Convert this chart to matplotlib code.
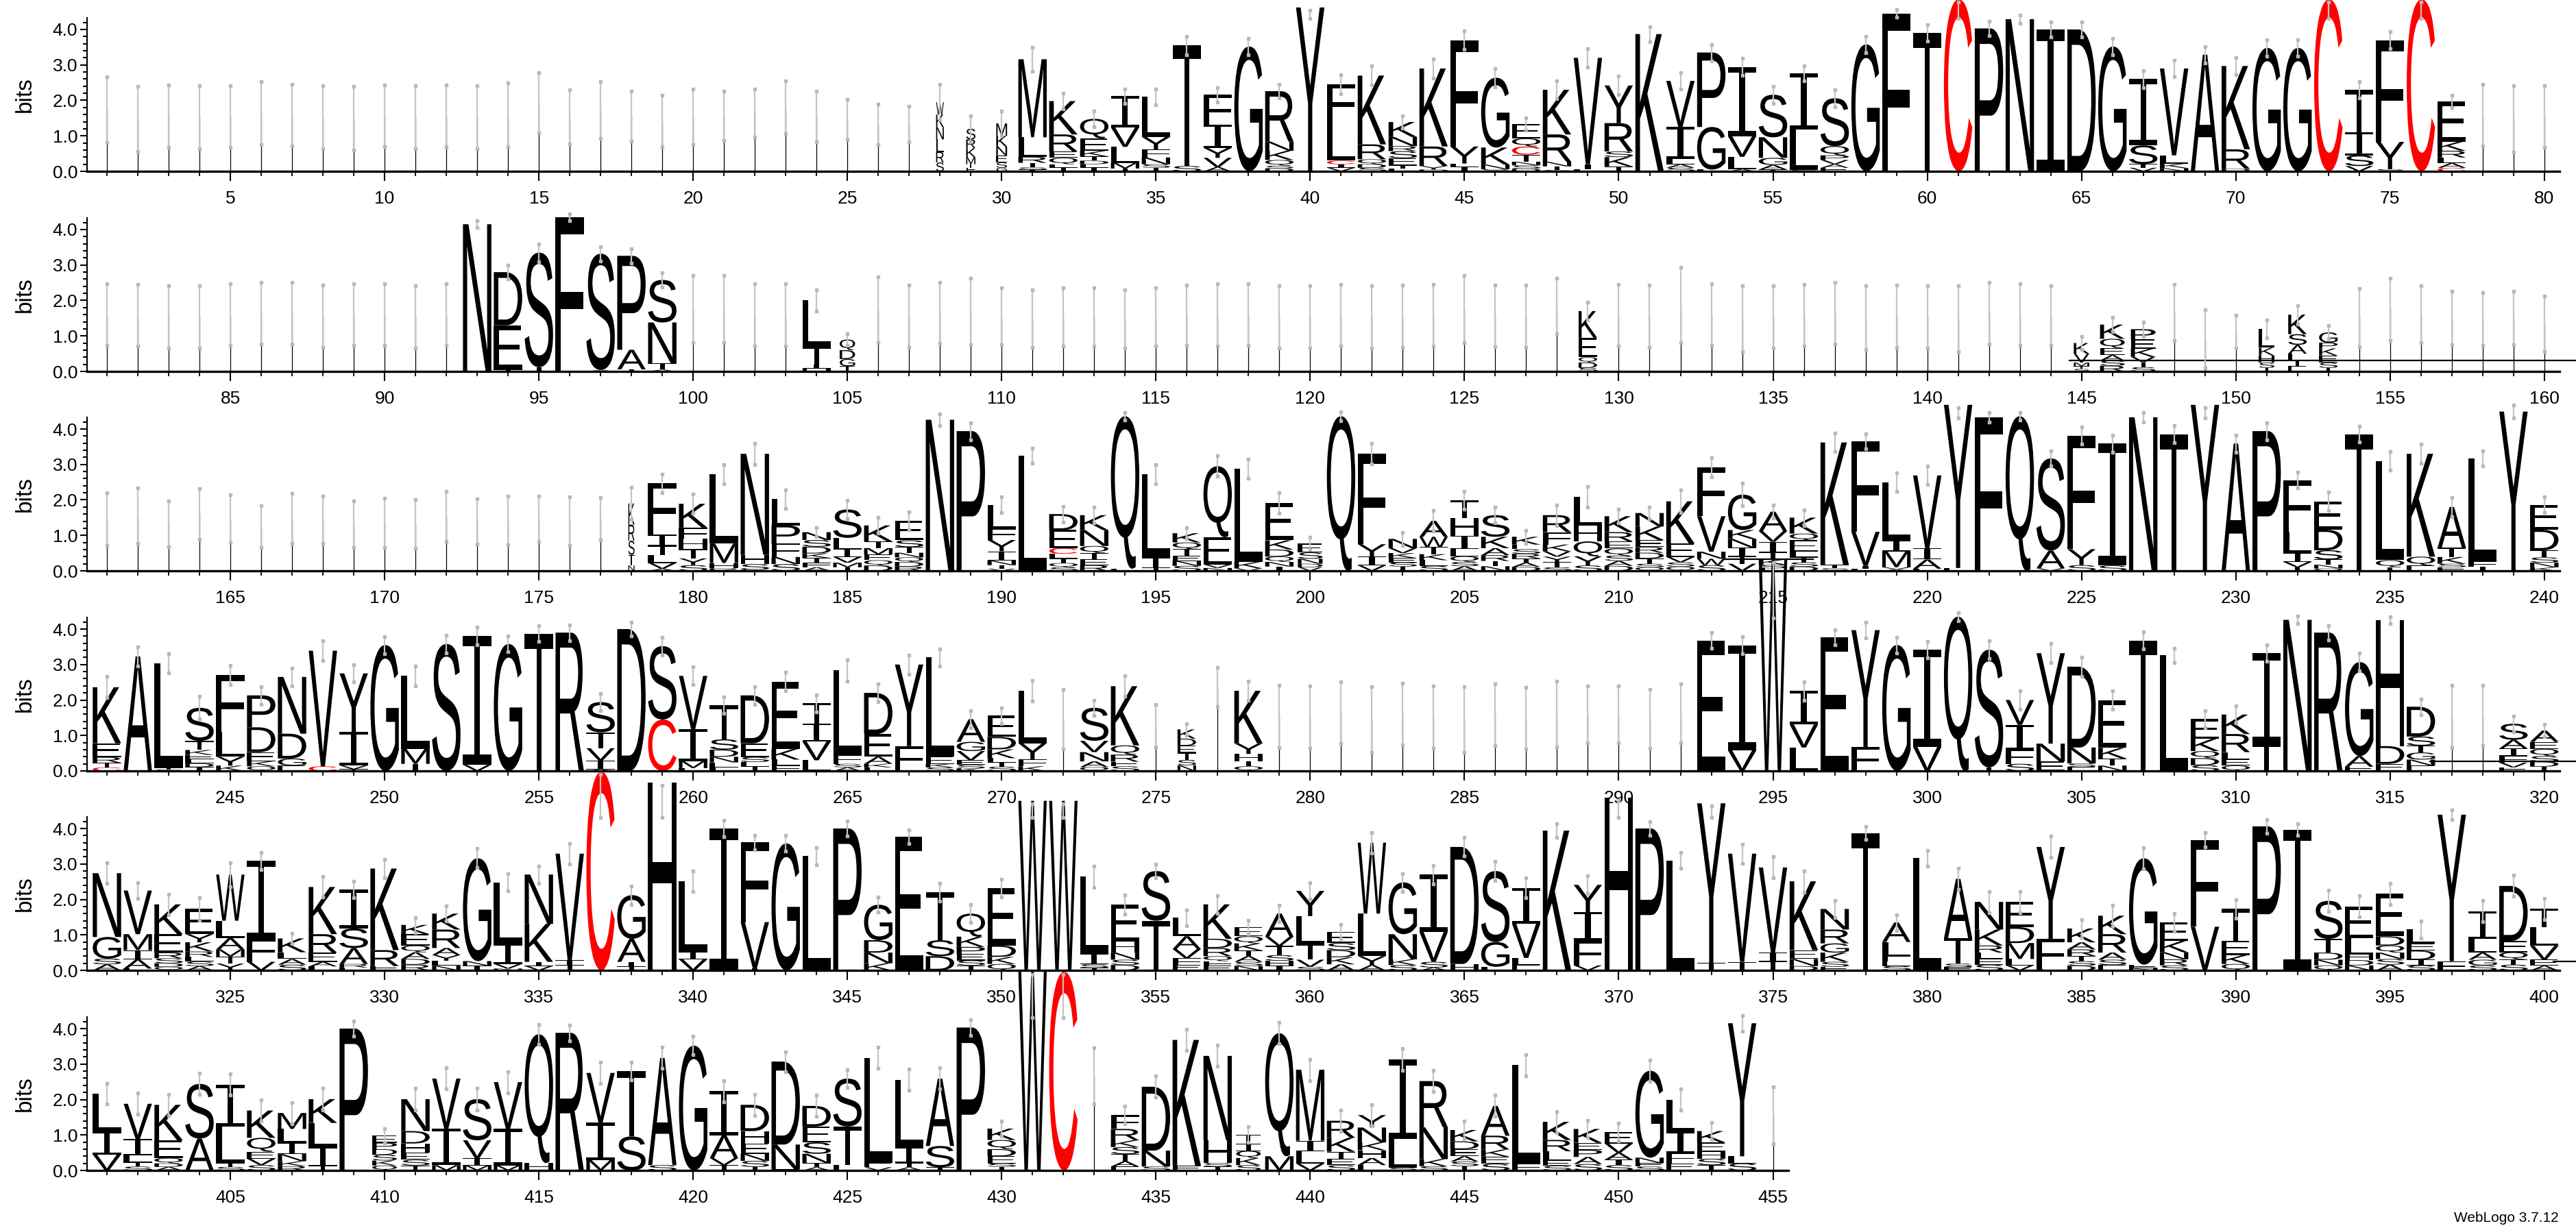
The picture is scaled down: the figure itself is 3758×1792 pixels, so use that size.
import numpy as np
import matplotlib
matplotlib.use('Agg')
import matplotlib.pyplot as plt
from matplotlib.textpath import TextPath
from matplotlib.patches import PathPatch
from matplotlib.font_manager import FontProperties
from matplotlib.transforms import Affine2D
from matplotlib.path import Path

plt.rcParams['font.family'] = ['Liberation Sans', 'DejaVu Sans']

# Stack per position, letters listed top -> bottom with height in bits.
# "_h" = almost empty column (thin stack of height h), "@w" = stack width,
# "|e" = half length of the error bar
row1 = [
    "_1.74|.93", "_1.48|.92", "_1.55|.88", "_1.52|.89", "_1.55|.87",
    "_1.64|.89", "_1.58|.87", "_1.52|.89", "_1.5|.9", "_1.57|.87",
    "_1.52|.89", "_1.57|.87", "_1.52|.89", "_1.6|.9", "_1.93|.85",
    "_1.53|.76", "_1.73|.8", "_1.56|.71", "_1.42|.73", "_1.53|.78",
    "_1.57|.7", "_1.64|.68", "_1.81|.75", "_1.55|.72", "_1.45|.57",
    "_1.32|.57", "_1.33|.5", "@.25 W.35 K.35 N.35 L.35 R.3 S.25|.5",
    "@.3 S.3 R.25 K.25 M.2 T.1 E.1|.37", "@.35 M.35 K.3 N.25 E.2 S.15 G.1|.35",
    "M2.2 L.55 R.17 T.13 S.06 I.05|.34", "K.94 R.48 E.18 Q.18 L.1 T.1|.23",
    "Q.55 E.35 K.16 T.12 D.1 L.1 I.1|.22", "I.88 V.55 L.45 M.16 T.08|.2",
    "L1.13 Y.35 F.23 N.19 S.1 T.1|.22",
    "T3.4 S.15|.26", "F.85 I.65 Y.28 V.26 A.12|.2", "G3.52|.23",
    "R1.42 N.26 K.26 Q.16 S.08 D.08|.2", "Y4.62",
    "F1.05 L1.1 C.1 I.1 V.1|.27", "K1.94 R.42 Q.14 D.1 S.1|.27",
    "K.42 N.26 R.14 S.2 E.2 T.1 L.07|.18", "K2.2 R.55 Y.1 D.05|.27",
    "F3.0 Y.48 L.1 I.12|.27",
    "G1.97 K.48 N.13 S.06|.26", "E.4 Q.23 C.23 T.2 N.1 S.1 D.07|.18",
    "K1.26 R.77 N.13 T.1 S.04|.26", "V3.0 I.15 L.05|.26",
    "Y1.06 R.8 S.16 K.26 T.14|.26",
    "K3.87|.21", "V1.3 I.9 L.15 A.1 S.1|.24", "P2.1 G1.2 L.05|.23",
    "I1.95 V.58 L.35 A.06|.24", "S1.2 N.58 G.2 A.13 T.05|.24",
    "I1.6 L1.13 S.04|.21", "S1.35 Q.26 P.13 V.12 A.1 E.1|.24", "G3.58|.23",
    "F4.45|.11", "T3.9|.23",
    "C4.85", "P4.03|.21", "N4.29|.11", "I4.0|.21", "D4.0|.21",
    "G3.52|.23", "I1.87 S.52 T.11 V.1|.24", "V2.45 L.23 K.13 N.09|.24",
    "A3.29|.23", "K2.35 R.55 D.07|.24",
    "G3.48|.23", "G3.48|.23", "C4.85", "T1.2 I.65 S.3 V.15|.23",
    "F2.87 Y.77 S.06|.24",
    "C4.85", "E1.13 K.26 R.19 L.16 A.13 C.1|.18", "_1.58|.87", "_1.48|.93",
    "_1.55|.87",
]

row2 = [
    "_1.61|.87", "_1.58|.87", "_1.54|.88", "_1.54|.88", "_1.61|.87",
    "_1.64|.87", "_1.64|.87", "_1.56|.88", "_1.61|.87", "_1.61|.87",
    "_1.54|.88", "_1.61|.87", "N4.15|.1", "D1.5 E1.25 T.05|.2", "S3.23 T.12|.25",
    "F4.35|.1", "S3.28 A.04|.2", "P2.65 A.55 T.06|.2", "S1.2 N1.15 T.18 A.05|.2",
    "_1.76|.95",
    "_1.76|.95", "_1.59|.88", "_1.59|.88", "L1.3 T.5 I.12 H.08|.29",
    "@.5 Q.3 D.25 G.2 T.15|.16",
    "_1.74|.93", "_1.56|.88", "_1.66|.86", "_1.69|.93", "_1.56|.8",
    "_1.49|.81", "_1.53|.82", "_1.53|.82", "_1.47|.82", "_1.53|.82",
    "_1.59|.85", "_1.6|.88", "_1.61|.87", "_1.54|.88", "_1.54|.88",
    "_1.58|.87", "_1.54|.88", "_1.56|.88", "_1.58|.87", "_1.76|.94",
    "_1.57|.87", "_1.56|.88", "_1.84|.78", "@.6 K.75 E.55 Q.15 D.15 S.1|.26",
    "_1.58|.87",
    "_1.56|.88", "_1.88|1.06", "_1.61|.87", "_1.49|.92", "_1.54|.88",
    "_1.58|.87", "_1.64|.87", "_1.52|.9", "_1.56|.88", "_1.54|.88",
    "_1.49|.92", "_1.64|.87", "_1.61|.87", "_1.58|.84",
    "@.5 K.3 V.25 M.1 T.08 S.07|.18",
    "@.8 K.4 Q.26 E.2 A.15 S.15 R.16|.2", "@.8 P.29 E.26 K.23 V.15 T.14 S.12|.2",
    "_1.66|.79", "_.92|.82", "_1.12|.47",
    "@.5 L.52 K.22 H.2 S.15 T.1|.25", "@.6 K.55 S.3 A.25 L.2 T.15 E.15|.26",
    "@.6 G.29 P.16 K.2 E.2 S.15 T.1|.2", "_1.52|.82", "_1.75|.88",
    "_1.61|.8", "_1.51|.75", "_1.48|.74", "_1.51|.75", "_1.35|.78",
]

row3 = [
    "_1.46|.75", "_1.56|.78", "_1.32|.65", "_1.6|.72", "_1.47|.67",
    "_1.24|.59", "_1.48|.71", "_1.44|.67", "_1.31|.66", "_1.35|.69",
    "_1.32|.68", "_1.54|.7", "_1.39|.64", "_1.42|.69", "_1.47|.64",
    "_1.4|.69", "_1.47|.6", "@.2 K.6 R.45 S.4 T.3 N.15|.45",
    "F1.45 I.32 T.26 L.22 V.16 A.06|.26", "K.67 F.32 H.29 T.26 Y.19 S.16|.27",
    "L1.95 M.55 H.15 R.07|.27", "N2.85 H.26 S.16 L.03|.3",
    "L.74 P.51 F.38 N.2 S.19|.26", "N.22 S.19 D.19 K.13 T.13 F.13 A.1|.13",
    "S.8 L.32 I.22 V.16 M.13 T.1|.26",
    "K.45 T.19 M.18 E.16 Q.15 D.15|.22", "E.55 S.19 T.16 N.13 Q.13 D.13 R.12|.26",
    "N4.26|.16", "P3.94|.24", "L.67 F.32 Y.32 I.26 N.13 T.1 V.06|.22",
    "L3.24|.21", "D.45 E.51 C.16 L.13 T.13 Q.12 S.1|.22",
    "K.42 N.45 Q.2 T.18 E.16 R.16|.22", "Q4.3 L.06|.11", "L2.34 I.3 T.08|.27",
    "K.26 Q.19 T.18 E.15 N.14 S.14|.16", "Q2.0 E.77 V.1 N.08|.29",
    "L2.63 K.18 V.07|.27", "E1.06 K.26 D.2 Q.15 N.13 I.12|.29",
    "@.8 E.25 S.18 N.14 D.1 V.1|.18",
    "Q4.36|.13", "F2.55 Y.35 I.25 V.15|.29", "N.26 V.14 K.14 E.12 S.12 T.12|.19",
    "A.45 W.29 T.2 K.17 L.16 S.14|.29", "T.5 H.5 I.38 L.2 Q.16 S.12 A.13|.26",
    "S.61 K.32 A.2 R.16 T.15 N.13|.22", "K.22 E.13 S.13 R.13 T.12 A.12 D.11|.18",
    "R.48 F.35 K.19 V.15 Y.15 T.15 S.1|.29", "L.8 H.45 Q.42 Y.26 S.15|.29",
    "K.45 R.26 E.2 Q.2 S.15 A.14 D.14|.19",
    "N.38 K.38 E.2 R.16 D.16 T.15 S.1 Q.1|.16", "K1.19 E.38 V.15 S.12 Q.12|.32",
    "F1.38 V1.0 N.2 W.18 S.16|.27", "G1.0 K.25 N.25 I.25 T.2 V.2|.32",
    "A.55 V.3 I.3 T.2 K.15 S.1 L.07|.19",
    "K.45 Q.19 E.32 L.15 T.15 S.12 D.12|.22", "K3.45 T.1 S.07|.26",
    "F2.55 V.96 I.08 L.06|.22", "L1.65 I.3 M.45 V.06 A.04|.26",
    "V2.05 I.32 A.26 L.06|.26",
    "Y4.6 F.08", "F4.33|.13", "Q4.36|.11", "S2.6 A.5 V.07|.22",
    "F3.2 Y.45 S.16|.24",
    "I3.44 S.15|.24", "N4.33|.14", "T3.85|.24", "Y4.68", "A3.59|.24",
    "P3.94|.24", "F1.45 L.6 I.26 V.15 T.1|.22", "E.8 D.58 S.26 T.15 N.1 Q.07|.26",
    "T3.85|.22", "L2.8 Q.2 T.1|.26",
    "K2.9 Q.25 E.15|.27", "A1.15 T.26 K.19 S.1 E.1|.27", "L2.9 F.15 I.12|.22",
    "Y4.49|.18", "E.7 D.58 T.2 S.15 N.13 K.1|.22",
]

row4 = [
    "K1.58 E.39 R.16 T.13 C.1|.3", "A3.23|.27", "L2.95 T.05 S.04|.27",
    "S.93 T.26 K.14 E.12 L.12 D.1 I.11|.32", "F1.6 L.7 Y.25 K.15|.27",
    "P.9 D.7 E.26 K.14 Q.13|.25", "N1.6 D.7 G.2 E.15|.25", "V3.26 C.13|.28",
    "Y1.65 I.95 V.1 T.05|.24", "G3.55|.24",
    "L2.06 M.42 I.2|.28", "S3.58|.25", "I3.64 V.17|.25", "G3.58|.22", "T3.87|.22",
    "R3.9|.22", "S.85 T.45 V.35 I.25 A.04|.24", "D4.0|.2", "S2.07 C1.45|.25",
    "V1.5 I.9 M.2 L.08|.25",
    "T.96 S.29 D.2 N.16 E.14 L.1|.23", "D1.35 E.39 S.14 L.13 T.12|.25",
    "E1.9 K.3 L.16 F.16|.26", "T.58 I.5 V.53 L.3|.24", "L2.38 F.26 S.1 A.1|.3",
    "D1.16 E.64 A.2 K.1 L.1|.25", "Y2.3 F.7|.27", "L2.8 E.2 K.1 S.1|.24",
    "A.64 G.26 V.26 E.13 S.1 K.07|.24", "E.6 D.35 K.25 L.12 T.12 S.12|.22",
    "L1.48 Y.45 F.2 K.13|.29", "_1.46|.84", "S.93 V.32 N.26 A.16 Q.11|.22",
    "K1.67 Q.26 R.2 E.13 S.13|.29", "_1.28|.6",
    "@.6 K.26 D.2 E.2 T.2 S.15 N.16|.17", "_2.36|.55",
    "K1.48 Y.3 H.2 T.15 Q.13|.27", "_1.54|.88", "_1.51|.88",
    "_1.65|.87", "_1.45|.92", "_1.6|.87", "_1.52|.88", "_1.45|.92",
    "_1.59|.87", "_1.49|.87", "_1.6|.93", "_1.59|.8", "_1.59|.8",
    "_1.47|.83", "_1.63|.83", "E3.68|.22", "I2.96 V.58|.24", "W5.95",
    "I.95 V.65 L.66|.26", "E3.77|.22", "Y3.3 F.67|.22", "G3.55|.22",
    "I2.74 V.68|.23",
    "Q4.35|.12", "S3.32 T.1|.25", "V.7 I.7 F.4 S.2|.27", "Y2.55 N.5 E.27|.27",
    "D2.28 N.45 S.1 E.11|.27",
    "E1.35 K.3 T.2 N.15|.27", "T3.68|.24", "L3.26|.2",
    "E.55 K.35 Q.2 D.2 S.16|.24", "K.55 R.51 L.2 E.18 Q.15|.24",
    "I2.55 T.77|.23", "N4.26|.1", "R3.9|.2", "G2.65 A.3 E.12|.25",
    "H3.55 D.5 E.2|.1",
    "D.84 S.26 T.19 G.2 N.17 E.15|.22", "_1.54|.88", "_1.57|.85",
    "S.45 A.25 I.2 F.2 V.13 E.1|.22", "A.32 E.2 Q.2 S.16 D.14 T.12|.17",
]

row5 = [
    "N1.8 G.61 S.16 A.17|.29", "V1.23 M.45 I.26 A.26 L.05|.23",
    "K.84 E.52 R.16 S.14 D.1 Q.1|.29", "E.71 Y.23 K.26 R.15 L.13 S.13 A.12|.32",
    "W1.3 L.49 A.32 M.2 T.2 Y.19|.34",
    "I2.2 F.65 V.24|.24", "K.39 L.19 A.16 S.16|.15", "K1.33 R.52 E.26 A.13 L.11|.29",
    "I1.1 S.55 A.45 R.1 E.08|.23", "K2.3 R.45 E.12|.26",
    "K.26 E.32 Q.19 A.19 D.16 R.16|.21", "K.45 R.52 A.2 Y.16 L.14 N.13|.21",
    "G2.9 N.13 I.13|.27", "L1.75 I.55 V.13 N.05|.24", "N1.39 K1.07 I.12 V.12|.24",
    "V3.0 I.14 T.15|.29", "C5.6", "G1.23 A.65 I.14 T.1|.26", "H5.3",
    "L2.0 I.2 V.31|.29",
    "I4.0|.23", "F2.25 V1.3 I.06|.2", "G3.58|.22", "L3.22|.24", "P4.0|.22",
    "G1.0 D.35 N.3 K.2|.21", "E3.77|.2", "T1.35 S.45 D.4|.25",
    "Q.65 K.29 P.2 E.18 S.14 T.14|.25", "E1.62 D.32 K.2 Q.18|.25",
    "W4.78", "W4.78", "L2.17 I.3 S.1 T.07|.3", "E1.04 H.32 N.2 S.15 D.15|.27",
    "S1.4 T1.4|.2",
    "L.52 A.36 V.26 F.18 E.16|.22", "K.97 D.26 R.23 Q.14 F.13 E.13|.25",
    "E.26 Q.2 K.2 T.16 A.16 S.12 N.12|.2", "A.65 V.26 T.26 S.16 H.14 I.13|.23",
    "Y.71 L.78 T.45 V.2 S.1|.23",
    "E.32 S.2 D.2 K.2 A.17|.2", "W2.0 L1.2 Y.25 A.15|.29", "G1.46 N.71 K.16 S.15|.25",
    "I1.62 V.84 S.16 A.08|.26", "D3.3 H.18|.26",
    "S2.0 G.7 L.1|.27", "I1.0 V.97 L.2 E.15|.28", "K3.94|.2",
    "Y.77 I.8 F.7 V.14|.25", "H4.87",
    "P4.0|.2", "L3.1|.22", "Y4.5 T.21", "V3.05 T.24|.27", "V2.4 I.25 T.25|.3",
    "K1.94 E.25 N.2 D.12|.3", "N.58 R.39 G.26 K.26 S.14 E.1|.24", "T3.87|.18",
    "A.55 L.39 F.15 E.14 S.12|.22", "L3.16|.22",
    "A1.68 T.71 S.1 E.09|.3", "N.78 K.45 R.2 L.18 E.16 S.16|.3",
    "E.71 D.45 M.45 L.18 V.14|.3", "Y2.6 F.84 L.04|.3",
    "K.39 A.2 R.18 T.15 S.13 D.13|.25",
    "K.52 R.52 A.2 S.15 E.15|.3", "G3.0 E.1 N.06|.3", "E.52 K.32 N.2 R.17 S.14|.25",
    "F2.45 V1.23|.2", "T.9 E.4 K.25 Q.18|.27",
    "P4.06|.2", "I3.97|.16", "S1.07 T.39 D.2 N.16 Q.14|.3",
    "E.9 L.45 H.16 D.15 N.14|.3", "E1.2 D.26 Q.2 N.18 S.16 A.16|.3",
    "L.39 E.2 D.26 I.16 S.14|.25", "Y4.13 F.26|.14", "I.78 L.39 A.2 G.16 S.14|.3",
    "D1.55 E.32 Q.2 T.15 S.16|.3", "T.52 L.52 V.39 E.17 A.13|.3",
]

row6 = [
    "L1.07 I.64 V.45|.29", "V1.0 I.45 L.2 T.12 S.11|.3", "K1.0 E.5 Q.15 D.1 A.1|.3",
    "S1.54 A.9|.3", "I1.19 L1.03 T.1 S.1|.3",
    "K.77 Q.39 E.2 V.18 S.15|.3", "M.45 L.39 I.32 N.2 K.14 R.12|.3",
    "K.67 L.67 I.55 T.12|.3", "P4.0|.22", "@.8 E.2 P.18 D.16 S.16 K.14 Q.14|.2",
    "N.9 D.35 H.26 E.2 S.16 T.14|.3", "V1.41 I1.03 M.15|.3", "S1.16 V.51 I.2 M.14|.3",
    "V1.32 I1.03 M.14|.3", "Q3.63 H.21|.28",
    "R3.88|.22", "V1.4 I1.06 M.29|.3", "T1.85 S.96|.25", "A3.02 S.15|.3", "G3.52|.26",
    "I1.25 A.64 V.2 T.15|.3", "D.74 H.35 E.29 N.2 S.17 T.1|.3", "D2.34 N.7 E.03|.28",
    "D.58 E.45 S.32 N.26 T.12 A.09|.3", "S1.35 T1.09 L.15|.25",
    "L2.96 E.12 V.09|.3", "L1.9 I.45 T.12 A.09|.3", "A1.9 S.6 T.09|.3", "P4.03|.22",
    "K.32 Q.26 D.2 E.2 S.1 T.1|.22",
    "W5.6", "C5.6", "_2.67|.79", "F.39 R.32 K.19 S.2 T.2 A.15 E.11|.25",
    "D1.8 N.45 S.11|.3",
    "K3.55 E.13|.3", "N2.38 H.64 S.1 T.11|.3", "@.8 T.26 I.2 Q.2 K.2 S.15|.22",
    "Q3.47 M.4|.3", "M2.0 I.3 L.35 V.19|.3",
    "R.48 K.39 T.2 E.18 S.15|.3", "Y.35 N.42 K.22 H.22 A.2 L.15|.3", "I2.25 L.8 S.08|.3",
    "R1.3 N.9 K.2 S.12|.3", "K.32 D.22 E.2 A.15 S.13 T.12|.25",
    "A.84 R.39 K.2 E.2 S.19|.3", "L2.77 F.2|.3", "K.51 R.32 L.26 E.15 S.13|.3",
    "K.39 E.2 P.2 A.2 S.18|.25", "E.32 V.26 A.2 I.15 S.15|.25",
    "G2.45 N.15 E.1 S.11|.3", "L.9 I.6 F.3 E.2|.3", "K.32 E.26 H.2 S.18 T.15|.25",
    "Y3.75 L.2 S.2|.22", "_1.56|.8",
]

rows = [row1, row2, row3, row4, row5, row6]
row_start = [1, 81, 161, 241, 321, 401]
# stray horizontal rules in the picture: (row, bits, from position, to position)
rules = [(1, 0.30, 144.6, None), (2, 0.32, 213.4, 216.3), (3, 0.27, 316.3, None),
         (4, 0.25, 400.3, None)]

W, H = 3758, 1792
zero_px = [250, 542, 833, 1125, 1416, 1708]
ymax = 4.32
bit_px = 51.75
left_px = 127
pos_px = 45.01
first_px = 156

fp = FontProperties(family='Liberation Sans', weight='normal')
cache = {}


def unit_path(ch):
    if ch not in cache:
        if ch == 'I':
            t, s = 0.08, 0.2
            a, b = 0.5 - s / 2, 0.5 + s / 2
            v = [(0, 0), (1, 0), (1, t), (b, t), (b, 1 - t), (1, 1 - t), (1, 1),
                 (0, 1), (0, 1 - t), (a, 1 - t), (a, t), (0, t), (0, 0)]
            p = Path(v, closed=True)
        else:
            p = TextPath((0, 0), ch, size=1, prop=fp)
            bb = p.get_extents()
            p = Affine2D().translate(-bb.x0, -bb.y0).scale(
                1 / bb.width, 1 / bb.height).transform_path(p)
        cache[ch] = p
    return cache[ch]


def parse(s):
    body, _, e = s.partition('|')
    half = float(e) if e else None
    width, thin, letters = 0.92, None, []
    for tok in body.split():
        if tok[0] == '@':
            width = float(tok[1:])
        elif tok[0] == '_':
            thin = float(tok[1:])
        else:
            letters.append((tok[0], float(tok[1:])))
    return width, thin, letters, half


fig = plt.figure(figsize=(W / 100, H / 100), dpi=100)

for r, (stacks, start) in enumerate(zip(rows, row_start)):
    n = len(stacks)
    x_lo = start - (first_px - left_px) / pos_px
    x_hi = start + n - 0.5
    ax = fig.add_axes([left_px / W, (H - zero_px[r]) / H,
                       (x_hi - x_lo) * pos_px / W, ymax * bit_px / H])
    ax.set_xlim(x_lo, x_hi)
    ax.set_ylim(0, ymax)

    for i, s in enumerate(stacks):
        x = start + i
        width, thin, letters, half = parse(s)
        if thin is not None:
            ax.plot([x, x], [0, thin], color='black', lw=0.9, zorder=2,
                    solid_capstyle='butt')
            top = thin
        else:
            y = 0.0
            for ch, h in reversed(letters):
                col = '#ff0000' if ch == 'C' else 'black'
                p = Affine2D().scale(width, h).translate(x - width / 2, y).transform_path(unit_path(ch))
                ax.add_patch(PathPatch(p, fc=col, ec='none', clip_on=False, zorder=2))
                y += h
            top = y
        if half is None:
            if top > 4.4:
                lo, hi = 4.3, top - 0.08
            else:
                lo, hi = top - 0.25, top + 0.25
        else:
            lo, hi = top - half, top + half
        ax.plot([x, x], [lo, hi], color='#c4c4c4', lw=1.6, marker='s', ms=3.2,
                mec='#b8b8b8', mfc='#b8b8b8', clip_on=False, zorder=3)

    x_edge = x_lo + (W - left_px) / pos_px
    for rr, yb, x0, x1 in rules:
        if rr == r:
            ax.plot([x0, x1 if x1 else x_edge], [yb, yb], color='black', lw=1.6,
                    clip_on=False, zorder=2)

    ax.set_yticks([0, 1, 2, 3, 4])
    ax.set_yticklabels(['0.0', '1.0', '2.0', '3.0', '4.0'])
    ax.set_yticks(np.arange(0, 4.31, 0.2), minor=True)
    ax.set_xticks([p for p in range(start, start + n) if p % 5 == 0])
    ax.set_xticks(range(start, start + n), minor=True)
    ax.tick_params(axis='both', which='major', labelsize=19, width=1.5)
    ax.tick_params(axis='x', which='major', length=10, pad=10)
    ax.tick_params(axis='x', which='minor', length=5, width=1.3)
    ax.tick_params(axis='y', which='major', length=7, pad=3)
    ax.tick_params(axis='y', which='minor', length=4, width=1.5)
    for sp in ['top', 'right']:
        ax.spines[sp].set_visible(False)
    ax.spines['bottom'].set_linewidth(2.4)
    ax.spines['left'].set_linewidth(1.5)
    ax.set_facecolor('none')

    fig.text(36 / W, (H - zero_px[r] + ymax * bit_px / 2) / H, 'bits', rotation=90,
             ha='center', va='center', fontsize=24)

fig.text(3733 / W, (H - 1777) / H, 'WebLogo 3.7.12', ha='right', va='center',
         fontsize=15)

fig.savefig('out.png', dpi=100)
